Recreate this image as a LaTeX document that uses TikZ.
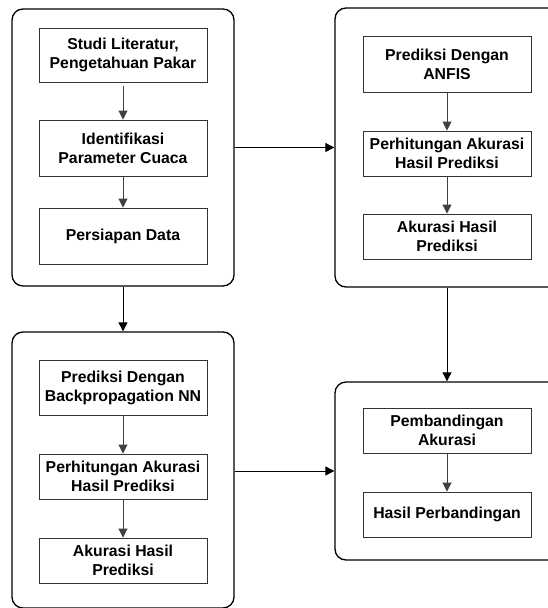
\documentclass[tikz,border=0pt]{standalone}
\usepackage{fontspec}
\setmainfont{Liberation Sans}
\usetikzlibrary{arrows.meta}
\begin{document}
\begin{tikzpicture}[x=1pt,y=-1pt,
  container/.style={draw=black, line width=1.3pt, rounded corners=11pt, fill=white, inner sep=0pt},
  stepbox/.style={draw=black!80, line width=0.9pt, fill=white, minimum width=168pt, align=center,
    font=\fontsize{15.8}{19}\selectfont\bfseries, inner sep=0pt},
  flow/.style={draw=black!75, line width=0.9pt, -{Triangle[width=9pt,length=9pt]}},
  link/.style={draw=black, line width=0.9pt, -{Triangle[width=9pt,length=9pt]}}]
\useasboundingbox (0,0) rectangle (548,608);
\clip (0,0) rectangle (548,608);
% containers
\node[container, minimum width=222pt, minimum height=277pt] (c1) at (123,147.5) {};
\node[container, minimum width=224pt, minimum height=279pt] (c2) at (447,147.5) {};
\node[container, minimum width=222pt, minimum height=276pt] (c3) at (123,470) {};
\node[container, minimum width=224pt, minimum height=178pt] (c4) at (447,471) {};
% top-left
\node[stepbox, minimum height=54pt] (a1) at (123,55) {Studi Literatur,\\Pengetahuan Pakar};
\node[stepbox, minimum height=56pt] (a2) at (123,148) {Identifikasi\\Parameter Cuaca};
\node[stepbox, minimum height=56pt] (a3) at (123,236) {Persiapan Data};
% top-right
\node[stepbox, minimum height=56pt] (b1) at (447,64) {Prediksi Dengan\\ANFIS};
\node[stepbox, minimum height=45pt] (b2) at (447,153.5) {Perhitungan Akurasi\\Hasil Prediksi};
\node[stepbox, minimum height=45pt] (b3) at (447,236.5) {Akurasi Hasil\\Prediksi};
% bottom-left
\node[stepbox, minimum height=55pt] (d1) at (123,387.5) {Prediksi Dengan\\Backpropagation NN};
\node[stepbox, minimum height=45pt] (d2) at (123,476.5) {Perhitungan Akurasi\\Hasil Prediksi};
\node[stepbox, minimum height=45pt] (d3) at (123,560.5) {Akurasi Hasil\\Prediksi};
% bottom-right
\node[stepbox, minimum height=45pt] (e1) at (447,430.5) {Pembandingan\\Akurasi};
\node[stepbox, minimum height=45pt] (e2) at (447,514.5) {Hasil Perbandingan};
% inner arrows
\draw[flow, shorten <=4pt] (a1) -- (a2);
\draw[flow] (a2) -- (a3);
\draw[flow] (b1) -- (b2);
\draw[flow] (b2) -- (b3);
\draw[flow] (d1) -- (d2);
\draw[flow] (d2) -- (d3);
\draw[flow] (e1) -- (e2);
% container links
\draw[link] (c1.east) -- (c2.west);
\draw[link] (c1.south) -- (c3.north);
\draw[link] (c2.south) -- (c4.north);
\draw[link] (c3.east |- c4.west) -- (c4.west);
\end{tikzpicture}
\end{document}
